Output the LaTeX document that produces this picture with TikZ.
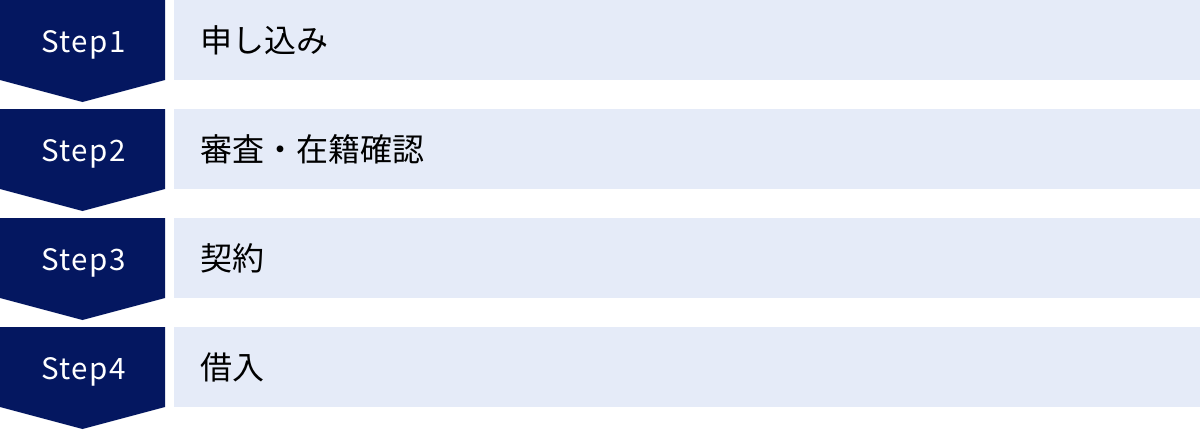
\documentclass[tikz,border=0pt]{standalone}
\usepackage{fontspec}
\setmainfont{Noto Sans CJK JP}
\newfontfamily\jpfont{Noto Sans CJK JP}
\newfontfamily\stepfont[LetterSpace=5]{Noto Sans CJK JP}
\definecolor{navy}{RGB}{4,23,96}
\definecolor{pale}{RGB}{229,235,248}
\tikzset{
  steplabel/.style={text=white, font=\stepfont\fontsize{29.5}{35}\selectfont, anchor=base, inner sep=0pt},
  itemlabel/.style={text=black, font=\jpfont\fontsize{32}{38}\selectfont, anchor=west, inner sep=0pt},
}
\begin{document}
\begin{tikzpicture}[x=1pt,y=-1pt]
\useasboundingbox (0,0) rectangle (1200,429);
\foreach \i/\s/\t in {0/1/申し込み,1/2/審査・在籍確認,2/3/契約,3/4/借入}{
  \pgfmathsetmacro{\yy}{109*\i}
  \fill[navy] (0,\yy) -- (165,\yy) -- (165,\yy+80) -- (82.5,\yy+102) -- (0,\yy+80) -- cycle;
  \fill[pale] (174,\yy) rectangle (1200,\yy+80);
  \node[steplabel] (step\s) at (83.5,\yy+52) {Step\s};
  \node[itemlabel] (item\s) at (200,\yy+40.5) {\t};
}
\end{tikzpicture}
\end{document}
